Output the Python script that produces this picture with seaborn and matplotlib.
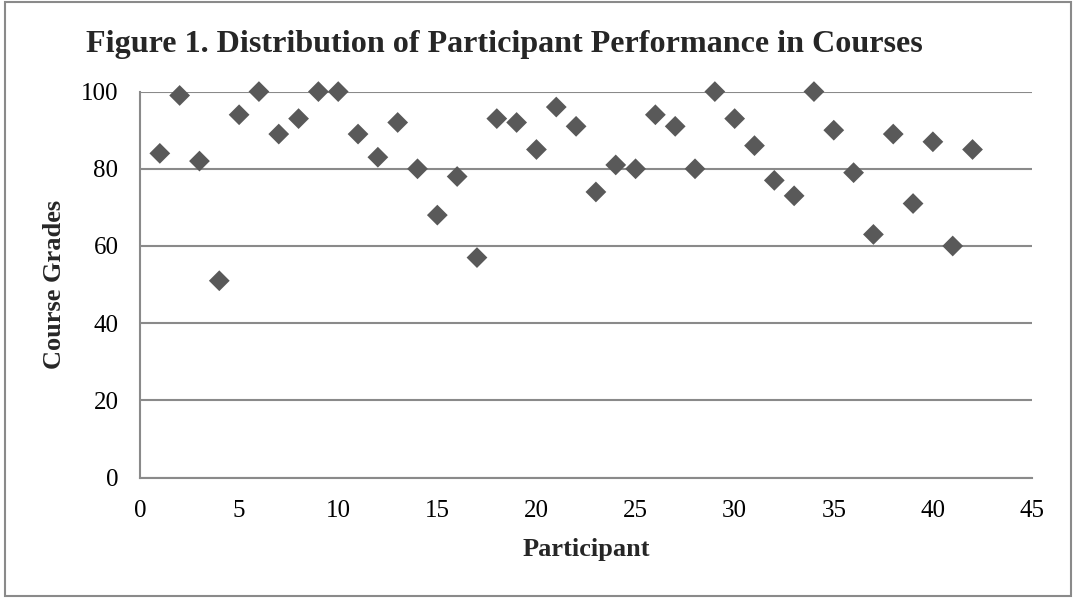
import matplotlib
matplotlib.use("Agg")
import matplotlib.pyplot as plt
import seaborn as sns
import pandas as pd
from matplotlib.patches import Rectangle

# data
participant = list(range(1, 43))
grades = [84, 99, 82, 51, 94, 100, 89, 93, 100, 100,
          89, 83, 92, 80, 68, 78, 57, 93, 92, 85,
          96, 91, 74, 81, 80, 94, 91, 80, 100, 93,
          86, 77, 73, 100, 90, 79, 63, 89, 71, 87,
          60, 85]
x_ticks = [0, 5, 10, 15, 20, 25, 30, 35, 40, 45]
y_ticks = [0, 20, 40, 60, 80, 100]

df = pd.DataFrame({"Participant": participant, "Course Grades": grades})

sns.set_style("white")
plt.rcParams["font.family"] = ["Liberation Serif", "DejaVu Serif"]

GRID = "#8a8a8a"
W, H = 1073, 602

fig = plt.figure(figsize=(W / 100, H / 100), dpi=100)
# axes box in pixels: x 140..1032, y 91.6..477.6
ax = fig.add_axes([140 / W, 1 - 477.6 / H, 892 / W, 386 / H])

sns.scatterplot(data=df, x="Participant", y="Course Grades", ax=ax,
                marker="D", s=112, color="#595959", edgecolor="none",
                zorder=3, clip_on=False)

ax.set_xlim(0, 45)
ax.set_ylim(0, 100)
ax.set_xticks(x_ticks)
ax.set_yticks(y_ticks)
ax.tick_params(axis="both", labelsize=18, colors=GRID, labelcolor="black",
               direction="out", length=5, width=1.2)
ax.tick_params(axis="y", pad=10.5)
ax.tick_params(axis="x", pad=11)

ax.yaxis.grid(True, color=GRID, linewidth=1.5)
ax.set_axisbelow(True)
for side in ["top", "right"]:
    ax.spines[side].set_visible(False)
for side in ["left", "bottom"]:
    ax.spines[side].set_color(GRID)
    ax.spines[side].set_linewidth(1.5)

ax.set_xlabel("Participant", fontsize=19, fontweight="bold", labelpad=12)
ax.set_ylabel("Course Grades", fontsize=19, fontweight="bold", labelpad=11)

fig.text(86 / W, 1 - 52 / H,
         "Figure 1. Distribution of Participant Performance in Courses",
         fontsize=23.1, fontweight="bold", ha="left", va="baseline")

# outer frame
fig.patches.append(Rectangle((5 / W, 6 / H), 1066 / W, 594 / H,
                             transform=fig.transFigure, fill=False,
                             edgecolor=GRID, linewidth=1.5))

fig.savefig("out.png", dpi=100)
